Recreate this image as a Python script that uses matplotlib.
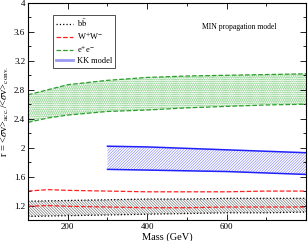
import numpy as np
import matplotlib
matplotlib.use('Agg')
import matplotlib.pyplot as plt
from matplotlib.lines import Line2D

plt.rcParams['font.family'] = 'Liberation Serif'
plt.rcParams['mathtext.fontset'] = 'stix'
plt.rcParams['hatch.linewidth'] = 0.4

# e+e- band
mass_ee = [100, 150, 200, 300, 400, 500, 600, 700, 800]
ee_hi = [2.73, 2.80, 2.87, 2.93, 2.97, 2.99, 3.00, 3.01, 3.02]
ee_lo = [2.35, 2.41, 2.45, 2.50, 2.52, 2.55, 2.57, 2.59, 2.60]

# KK model band
mass_kk = [300, 400, 500, 600, 700, 800]
kk_hi = [2.02, 2.01, 1.99, 1.97, 1.95, 1.93]
kk_lo = [1.70, 1.69, 1.68, 1.67, 1.65, 1.63]

# W+W- lines
mass_ww = [100, 150, 200, 300, 400, 500, 600, 700, 800]
ww_hi = [1.40, 1.42, 1.41, 1.40, 1.39, 1.39, 1.39, 1.40, 1.40]
ww_lo = [1.19, 1.20, 1.19, 1.18, 1.17, 1.17, 1.18, 1.18, 1.18]

# b bbar band
mass_bb = [100, 200, 300, 400, 500, 600, 700, 800]
bb_hi = [1.26, 1.27, 1.28, 1.29, 1.29, 1.30, 1.30, 1.30]
bb_lo = [1.05, 1.06, 1.07, 1.08, 1.09, 1.10, 1.10, 1.11]

fig = plt.figure(figsize=(3.08, 2.41), dpi=100)
ax = fig.add_axes([0.091, 0.087, 0.903, 0.901])

ax.fill_between(mass_ee, ee_lo, ee_hi, facecolor='white', edgecolor='#a8dca8', hatch='o' * 9, linewidth=0)
ax.plot(mass_ee, ee_hi, '--', color='#2ca02c', lw=0.9)
ax.plot(mass_ee, ee_lo, '--', color='#2ca02c', lw=0.9)

ax.fill_between(mass_kk, kk_lo, kk_hi, facecolor='white', edgecolor='#7a7af0', hatch='/' * 12, linewidth=0)
ax.plot(mass_kk, kk_hi, '-', color='#2020ff', lw=1.1)
ax.plot(mass_kk, kk_lo, '-', color='#2020ff', lw=1.1)

ax.plot(mass_ww, ww_hi, '--', color='#ff2020', lw=0.9)
ax.plot(mass_ww, ww_lo, '--', color='#ff2020', lw=0.9)

ax.fill_between(mass_bb, bb_lo, bb_hi, facecolor='white', edgecolor='#606060', hatch='\\' * 12, linewidth=0)
ax.plot(mass_bb, bb_hi, ':', color='black', lw=0.9)
ax.plot(mass_bb, bb_lo, ':', color='black', lw=0.9)

ax.set_xlim(100, 800)
ax.set_ylim(1.0, 4.0)
ax.set_xticks([200, 400, 600])
ax.set_xticks([100, 300, 500, 700], minor=True)
ax.set_yticks([1.2, 1.6, 2.0, 2.4, 2.8, 3.2, 3.6, 4.0])
ax.set_yticklabels(['1.2', '1.6', '2', '2.4', '2.8', '3.2', '3.6', '4'])
ax.set_yticks(np.arange(1.0, 4.01, 0.2), minor=True)
ax.tick_params(which='both', direction='in', top=True, right=True, labelsize=6.5, pad=2)
ax.tick_params(which='major', length=4, width=0.6)
ax.tick_params(which='minor', length=2, width=0.6)
for s in ax.spines.values():
    s.set_linewidth(0.8)

ax.set_xlabel('Mass (GeV)', fontsize=7.5, labelpad=1)
ax.set_ylabel(r'r = <$\sigma$v>$_{\rm acc.}$/<$\sigma$v>$_{\rm conv.}$', fontsize=7.5, labelpad=2)

ax.text(0.76, 0.89, 'MIN propagation model', transform=ax.transAxes, fontsize=5.5, ha='center', va='center')

handles = [
    Line2D([], [], ls=':', color='black', lw=0.9),
    Line2D([], [], ls='--', color='#ff2020', lw=0.9),
    Line2D([], [], ls='--', color='#2ca02c', lw=0.9),
    Line2D([], [], ls='-', color='#9a9af5', lw=2.0),
]
labels = [r'b$\bar{\rm b}$', r'W$^{+}$W$^{-}$', r'e$^{+}$e$^{-}$', 'KK model']
leg = ax.legend(handles, labels, loc='upper left', bbox_to_anchor=(0.09, 0.945), fontsize=6,
                frameon=True, fancybox=False, edgecolor='black', handlelength=2.0,
                handletextpad=0.5, labelspacing=0.2, borderpad=0.35, borderaxespad=0)
leg.get_frame().set_linewidth(0.6)

fig.savefig('out.png', dpi=100)
